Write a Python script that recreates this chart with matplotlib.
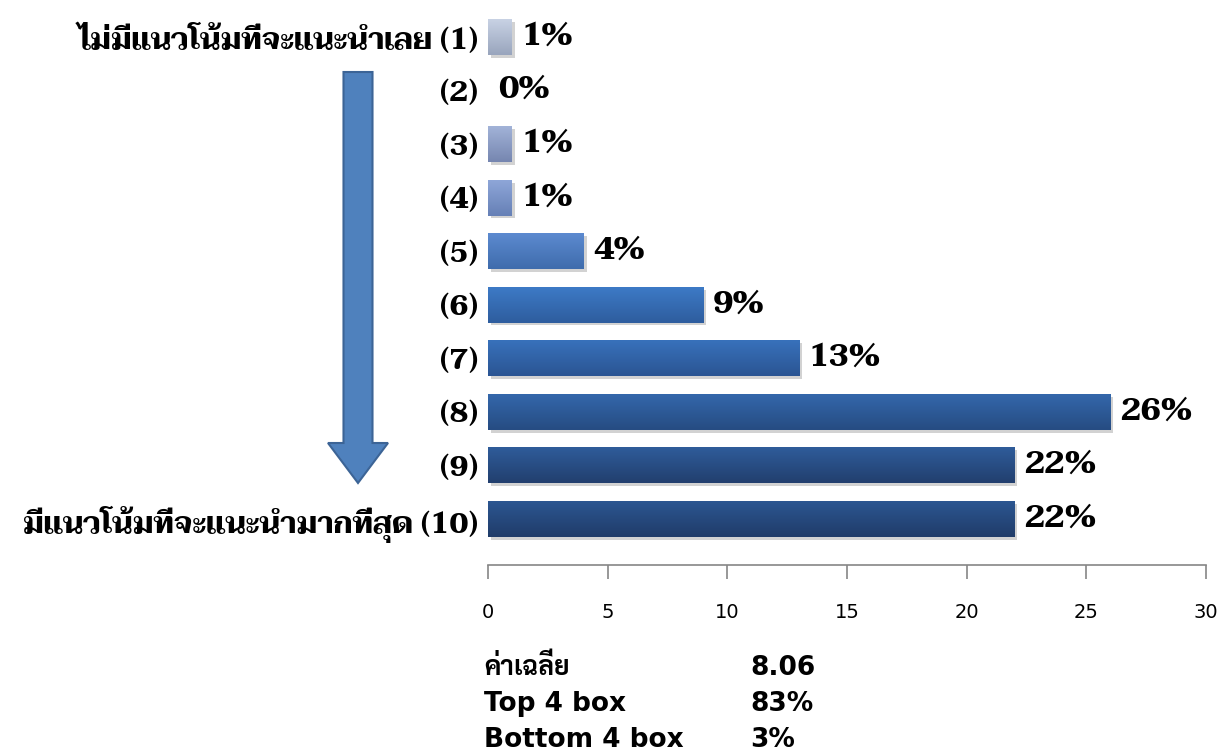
import matplotlib
matplotlib.use("Agg")
import matplotlib.pyplot as plt
import matplotlib.patheffects as pe
from matplotlib.patches import FancyArrow
from matplotlib.colors import LinearSegmentedColormap
import numpy as np

# data
categories = [
    "ไม่มีแนวโน้มที่จะแนะนำเลย (1)", "(2)", "(3)", "(4)", "(5)",
    "(6)", "(7)", "(8)", "(9)", "มีแนวโน้มที่จะแนะนำมากที่สุด (10)",
]
values = [1, 0, 1, 1, 4, 9, 13, 26, 22, 22]
summary_names = ["ค่าเฉลี่ย", "Top 4 box", "Bottom 4 box"]
summary_values = ["8.06", "83%", "3%"]

# gradient colours per bar (top -> bottom)
top_colors = ["#c8d2e4", "#a9b8d8", "#a2b3d8", "#8ea6d8", "#5c8ad0",
              "#3d7ac6", "#3871bb", "#3467ab", "#2f5c9a", "#2c5691"]
bottom_colors = ["#99a5bd", "#8090b8", "#7686b0", "#6680b6", "#3f6cac",
                 "#2e5d9e", "#2b5593", "#264c82", "#223f6e", "#203c69"]

cat_font = dict(family=["Taviraj", "DejaVu Serif"], weight="bold", size=21.3)
val_font = dict(family=["Taviraj", "DejaVu Serif"], weight="bold", size=23)
tick_font = dict(family=["DejaVu Sans"], size=14)
summary_font = dict(family=["DejaVu Sans", "Sarabun"], weight="bold", size=19)

W, H = 1222, 755
fig = plt.figure(figsize=(W / 100, H / 100), dpi=100)

# pixel overlay for the decorative arrow and the summary text
ov = fig.add_axes([0, 0, 1, 1], zorder=0)
ov.set_xlim(0, W)
ov.set_ylim(H, 0)
ov.axis("off")

ax = fig.add_axes([488 / W, 1 - 565 / H, (1206 - 488) / W, (565 - 10) / H], zorder=1)
ax.patch.set_alpha(0)

y = np.arange(len(values))
bar_h = 0.67
bars = ax.barh(y, values, height=bar_h, color=bottom_colors, edgecolor="none")
for i, (b, v) in enumerate(zip(bars, values)):
    b.set_path_effects([pe.SimplePatchShadow(offset=(2, -2), shadow_rgbFace="#7f7f7f", alpha=0.35),
                        pe.Normal()])
    if v > 0:
        cmap = LinearSegmentedColormap.from_list(f"g{i}", [top_colors[i], bottom_colors[i]])
        im = ax.imshow(np.linspace(0, 1, 64).reshape(-1, 1), cmap=cmap, origin="upper",
                       extent=(0, v, y[i] + bar_h / 2, y[i] - bar_h / 2), aspect="auto", zorder=2)
        im.set_clip_path(b)
    ax.annotate(f"{v}%", (v, y[i]), xytext=(7, 0), textcoords="offset points",
                ha="left", va="center", **val_font)

ax.set_xlim(0, 30)
ax.set_ylim(9.86, -0.505)
ax.set_xticks(range(0, 31, 5))
ax.set_yticks(y)
ax.set_yticklabels(categories, **cat_font)
ax.tick_params(axis="y", length=0, pad=7)
ax.tick_params(axis="x", direction="out", length=10, width=1.2, color="#868686", pad=17)
for t in ax.get_xticklabels():
    t.set(**tick_font)
for s in ["top", "right", "left"]:
    ax.spines[s].set_visible(False)
ax.spines["bottom"].set_color("#868686")
ax.spines["bottom"].set_linewidth(1.2)

ov.add_patch(FancyArrow(358, 72, 0, 411, width=29, head_width=60, head_length=40,
                        length_includes_head=True, fc="#4f81bd", ec="#3c6496", lw=1.5))

for k, (name, val) in enumerate(zip(summary_names, summary_values)):
    yy = 668 + k * 36
    ov.text(484, yy, name, ha="left", va="center", **summary_font)
    ov.text(750, yy, val, ha="left", va="center", **summary_font)

fig.savefig("out.png", dpi=100)
